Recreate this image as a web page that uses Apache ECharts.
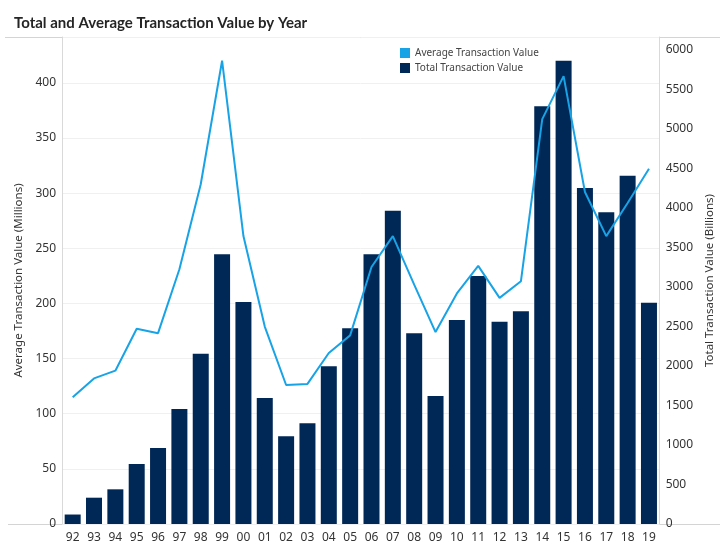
<!DOCTYPE html>
<html>
<head>
    <meta charset="utf-8" />
    <title>Total and Average Transaction Value by Year</title>
    <script src="https://cdn.jsdelivr.net/npm/echarts@6/dist/echarts.min.js"></script>
    <style>
        html, body { margin: 0; padding: 0; background: #fff; }
        #EChart { width: 724px; height: 551px; }
    </style>
</head>
<body>
    <div id="EChart"></div>
    <script type="text/javascript">
        // data
        var years = ['92', '93', '94', '95', '96', '97', '98', '99', '00', '01', '02', '03', '04', '05',
                     '06', '07', '08', '09', '10', '11', '12', '13', '14', '15', '16', '17', '18', '19'];
        // Total Transaction Value (Billions) - bars, right axis
        var totalValue = [120, 333, 439, 760, 962, 1456, 2156, 3414, 2810, 1595, 1110, 1274, 1996, 2477,
                          3416, 3966, 2414, 1620, 2582, 3139, 2561, 2692, 5287, 5865, 4253, 3945, 4409, 2801];
        // Average Transaction Value (Millions) - line, left axis
        var avgValue = [115, 132, 139, 177, 173, 231, 308, 420, 261, 179, 126, 127, 155, 171,
                        233, 261, 217, 174, 209, 234, 205, 220, 367, 406, 301, 261, 291, 322];

        var font = 'Noto Sans';
        var myChart = echarts.init(document.getElementById('EChart'));
        var option = {
            animation: false,
            textStyle: { fontFamily: font },
            title: {
                text: 'Total and Average Transaction Value by Year',
                left: 9,
                top: 11,
                textStyle: { fontSize: 15, fontWeight: 'bold', color: '#252525', fontFamily: 'Lato' }
            },
            legend: {
                data: ['Average Transaction Value', 'Total Transaction Value'],
                orient: 'vertical',
                left: 395,
                top: 43,
                icon: 'rect',
                itemWidth: 10,
                itemHeight: 10,
                itemGap: 5,
                textStyle: { fontSize: 10, color: '#444', fontFamily: font }
            },
            grid: { left: 62, right: 62, top: 37, bottom: 27, containLabel: false },
            xAxis: {
                type: 'category',
                data: years,
                axisTick: { show: false },
                axisLine: { show: false },
                axisLabel: { fontSize: 12, color: '#333', margin: 8 }
            },
            yAxis: [{
                type: 'value',
                name: 'Average Transaction Value (Millions)',
                nameLocation: 'middle',
                nameRotate: 90,
                nameGap: 34,
                nameTextStyle: { fontSize: 11.5, color: '#333' },
                min: 0,
                max: 441.5,
                interval: 50,
                axisLine: { show: true, lineStyle: { color: '#d9d9d9' } },
                axisTick: { show: false },
                axisLabel: { fontSize: 12, color: '#333', margin: 6, showMaxLabel: false },
                splitLine: { show: true, lineStyle: { color: '#f0f0f0' } }
            }, {
                type: 'value',
                name: 'Total Transaction Value (Billions)',
                nameLocation: 'middle',
                nameRotate: 90,
                nameGap: 38,
                nameTextStyle: { fontSize: 11.5, color: '#333' },
                min: 0,
                max: 6165,
                interval: 500,
                axisLine: { show: true, lineStyle: { color: '#d9d9d9' } },
                axisTick: { show: false },
                axisLabel: {
                    fontSize: 12, color: '#333', margin: 6, showMaxLabel: false,
                    formatter: function (v) { return String(v); }
                },
                splitLine: { show: false }
            }],
            graphic: [
                // separator lines under the title and along the bottom
                { type: 'line', shape: { x1: 5, y1: 37.5, x2: 720, y2: 37.5 }, style: { stroke: '#d4d4d4', lineWidth: 1 } },
                { type: 'line', shape: { x1: 8, y1: 524.5, x2: 720, y2: 524.5 }, style: { stroke: '#d4d4d4', lineWidth: 1 } }
            ],
            series: [{
                name: 'Total Transaction Value',
                type: 'bar',
                yAxisIndex: 1,
                barWidth: 16,
                itemStyle: { color: '#002856' },
                data: totalValue
            }, {
                name: 'Average Transaction Value',
                type: 'line',
                yAxisIndex: 0,
                showSymbol: false,
                symbol: 'none',
                lineStyle: { color: '#18a3e6', width: 2 },
                itemStyle: { color: '#18a3e6' },
                data: avgValue
            }]
        };
        myChart.setOption(option);
    </script>
</body>
</html>
